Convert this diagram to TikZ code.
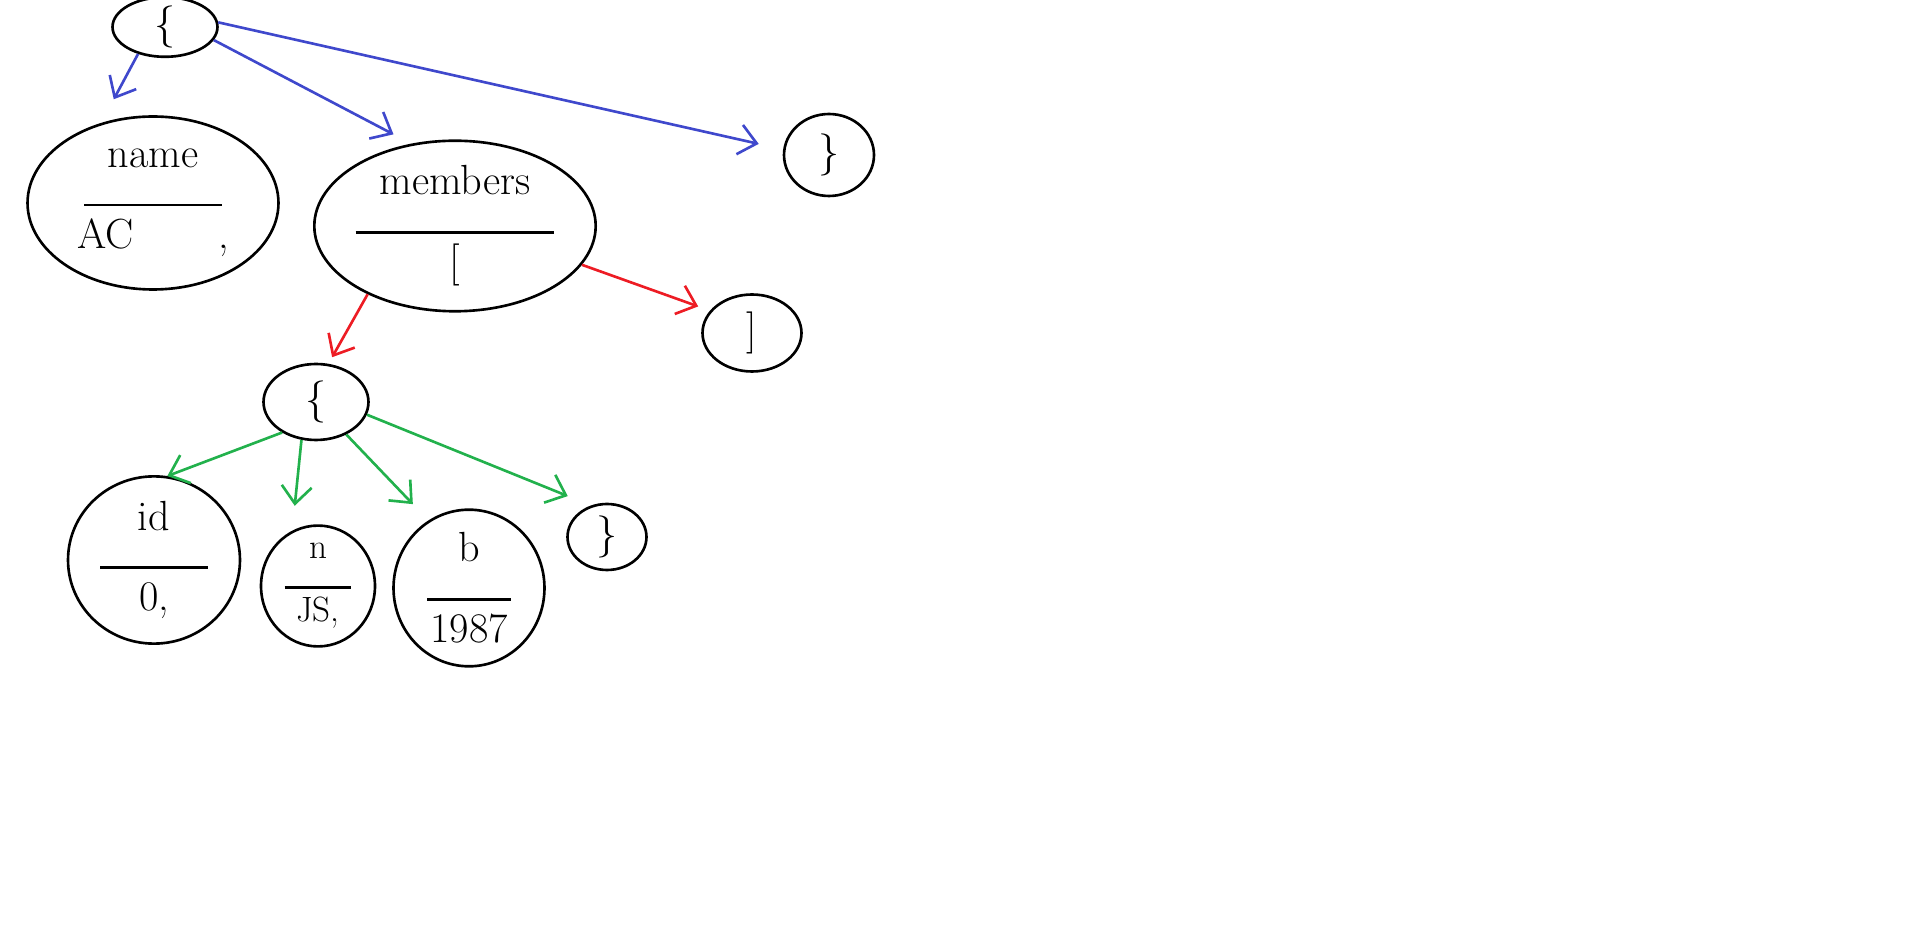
\documentclass[tikz,border=0pt]{standalone}
\usepackage{tikz}
\usetikzlibrary{arrows.meta,shapes.geometric}
\definecolor{InkBlue}{HTML}{3F48CC}
\definecolor{InkRed}{HTML}{ED1C24}
\definecolor{InkGreen}{HTML}{22B14C}
\newcommand{\kv}[3]{#1\\[-4pt]\rule{#3}{1.4pt}\\[-2pt]#2}

\begin{document}
\begin{tikzpicture}[x=0.02cm,y=-0.02cm,
  blob/.style={draw, ellipse, line width=1.5pt, inner sep=0pt, align=center, font=\fontsize{24}{26}\selectfont},
  arr/.style={-{Straight Barb[length=3.5mm,width=6mm]}, line width=1.5pt}
]
\useasboundingbox (0,0) rectangle (1914,935);
\node[blob, minimum width=2.1cm, minimum height=1.1cm] (root) at (165,27) {\{};
\node[blob, minimum width=5.02cm, minimum height=3.46cm] (name) at (153,203) {\kv{name}{AC\qquad,}{2.76cm}};
\node[blob, minimum width=4.4cm, minimum height=2.88cm] (members) at (455,226) {\kv{members}{[}{3.98cm}};
\node[blob, minimum width=1.8cm, minimum height=1.64cm] (rclose) at (829,155) {\}};
\node[blob, minimum width=1.98cm, minimum height=1.54cm] (aclose) at (752,333) {]};
\node[blob, minimum width=2.1cm, minimum height=1.52cm] (obj) at (316,402) {\{};
\node[blob, minimum width=3.44cm, minimum height=2.88cm] (id) at (154,560) {\kv{id}{0,}{2.15cm}};
\node[blob, minimum width=2.28cm, minimum height=1.74cm, font=\fontsize{20}{21}\selectfont] (n) at (318,586) {\kv{n}{JS,}{1.34cm}};
\node[blob, minimum width=3.02cm, minimum height=2.44cm] (b) at (469,588) {\kv{b}{1987}{1.68cm}};
\node[blob, minimum width=1.58cm, minimum height=1.32cm] (oclose) at (607,537) {\}};
\draw[arr, InkBlue, shorten >=0.45cm] (root.225) -- ([xshift=-0.25cm]name.114);
\draw[arr, InkBlue, shorten >=0.4cm] (root.345) -- (members.118);
\draw[arr, InkBlue, shorten >=0.5cm] (root.5) -- (rclose.173);
\draw[arr, InkRed, shorten >=0.15cm] (members.218) -- (obj.72);
\draw[arr, InkRed, shorten >=0.25cm] (members.343) -- (aclose.152);
\draw[arr, InkGreen] (obj.222) -- (id.81);
\draw[arr, InkGreen, shorten >=0.5cm] (obj.249) -- (n.115);
\draw[arr, InkGreen, shorten >=0.45cm] (obj.313) -- (b.121);
\draw[arr, InkGreen, shorten >=0.5cm] (obj.346) -- (oclose.117);
\end{tikzpicture}
\end{document}
